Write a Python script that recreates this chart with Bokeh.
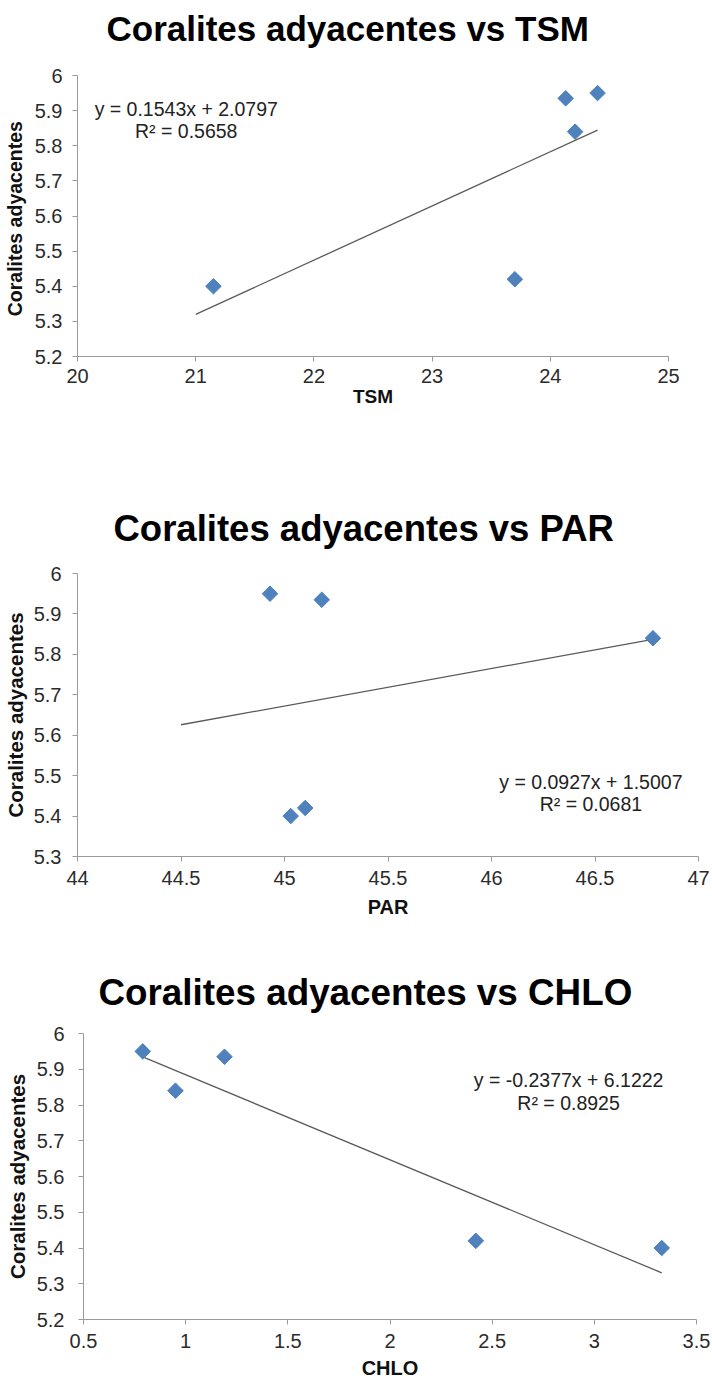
import math

from bokeh.plotting import figure
from bokeh.layouts import column, row
from bokeh.models import Label, FixedTicker, NumeralTickFormatter, Range1d
from bokeh.embed import file_html
from bokeh.resources import INLINE

# Coral measurements per site and the environmental variables at each site
coral = [5.40, 5.42, 5.935, 5.84, 5.95]
tsm = [21.15, 23.70, 24.13, 24.21, 24.40]
par = [45.03, 45.10, 45.18, 46.78, 44.93]
chlo = [3.33, 2.42, 1.19, 0.95, 0.79]

titles = ["Coralites adyacentes vs TSM",
          "Coralites adyacentes vs PAR",
          "Coralites adyacentes vs CHLO"]
x_names = ["TSM", "PAR", "CHLO"]
y_names = ["Coralites  adyacentes", "Coralites adyacentes", "Coralites adyacentes"]

# Linear trendlines (slope, intercept, R²) and the x span each one covers
slopes = [0.1543, 0.0927, -0.2377]
intercepts = [2.0797, 1.5007, 6.1222]
r_squared = [0.5658, 0.0681, 0.8925]
trend_x = [[21.0, 24.40], [44.5, 46.78], [0.79, 3.33]]

x_ticks = [[20, 21, 22, 23, 24, 25],
           [44, 44.5, 45, 45.5, 46, 46.5, 47],
           [0.5, 1, 1.5, 2, 2.5, 3, 3.5]]
y_ticks = [[5.2, 5.3, 5.4, 5.5, 5.6, 5.7, 5.8, 5.9, 6.0],
           [5.3, 5.4, 5.5, 5.6, 5.7, 5.8, 5.9, 6.0],
           [5.2, 5.3, 5.4, 5.5, 5.6, 5.7, 5.8, 5.9, 6.0]]

FONT = "Liberation Sans"
AXIS_GRAY = "#9a9a9a"
MARKER_BLUE = "#4f81bd"

# Geometry in pixels: heading strip (height, text left, text centre), chart
# figure height and borders.  Equation text positions are in data units.
layouts = [
    dict(head_h=55, head_x=106, head_y=28, head_size="35px",
         h=405, left=77, right=44, top=20, bottom=104,
         xlab_size="19px", ylab_size="19.5px",
         ytick_sd=10, ylab_sd=6, xtick_sd=7, xlab_sd=0, eq=(20.92, 5.906, 5.843)),
    dict(head_h=95, head_x=113, head_y=68, head_size="36.5px",
         h=365, left=73, right=14, top=18, bottom=64,
         xlab_size="20px", ylab_size="20.5px",
         ytick_sd=11, ylab_sd=4, xtick_sd=9, xlab_sd=8, eq=(46.48, 5.484, 5.430)),
    dict(head_h=100, head_x=98, head_y=72, head_size="36.8px",
         h=362, left=83, right=16, top=13, bottom=63,
         xlab_size="20px", ylab_size="20.5px",
         ytick_sd=14, ylab_sd=5, xtick_sd=9, xlab_sd=6, eq=(2.874, 5.869, 5.805)),
]


def fmt_eq(m, b):
    sign = "+" if b >= 0 else "-"
    return f"y = {m:.4f}x {sign} {abs(b):.4f}"


def make_heading(i):
    lay = layouts[i]
    h = figure(width=712, height=lay["head_h"], output_backend="svg",
               toolbar_location=None, x_axis_location=None, y_axis_location=None,
               x_range=Range1d(0, 1), y_range=Range1d(0, 1),
               min_border=0, min_border_left=0, min_border_right=0,
               min_border_top=0, min_border_bottom=0)
    h.outline_line_color = None
    h.xgrid.visible = False
    h.ygrid.visible = False
    h.add_layout(Label(x=lay["head_x"], y=lay["head_h"] - lay["head_y"],
                       x_units="screen", y_units="screen", text=titles[i],
                       text_align="left", text_baseline="middle", text_font=FONT,
                       text_font_size=lay["head_size"], text_font_style="bold",
                       text_color="black"))
    return h


def make_chart(i, xs):
    lay = layouts[i]
    p = figure(width=712, height=lay["h"], output_backend="svg", toolbar_location=None,
               x_range=Range1d(x_ticks[i][0], x_ticks[i][-1]),
               y_range=Range1d(y_ticks[i][0], y_ticks[i][-1]),
               min_border_left=lay["left"], min_border_right=lay["right"],
               min_border_top=lay["top"], min_border_bottom=lay["bottom"])
    p.outline_line_color = None
    p.background_fill_color = "white"
    p.border_fill_color = "white"
    p.xgrid.visible = False
    p.ygrid.visible = False

    for ax in (p.xaxis[0], p.yaxis[0]):
        ax.axis_line_color = AXIS_GRAY
        ax.major_tick_line_color = AXIS_GRAY
        ax.minor_tick_line_color = None
        ax.major_tick_in = 0
        ax.major_tick_out = 5
        ax.major_label_text_font = FONT
        ax.major_label_text_font_size = "20px"
        ax.major_label_text_color = "#2b2b2b"
        ax.axis_label_text_font = FONT
        ax.axis_label_text_font_style = "bold"
        ax.axis_label_text_color = "#111111"
        ax.formatter = NumeralTickFormatter(format="0.[0]")

    p.xaxis.axis_label_text_font_size = lay["xlab_size"]
    p.yaxis.axis_label_text_font_size = lay["ylab_size"]
    p.xaxis.ticker = FixedTicker(ticks=x_ticks[i])
    p.yaxis.ticker = FixedTicker(ticks=y_ticks[i])
    p.xaxis.axis_label = x_names[i]
    p.yaxis.axis_label = y_names[i]
    p.xaxis.major_label_standoff = lay["xtick_sd"]
    p.yaxis.major_label_standoff = lay["ytick_sd"]
    p.xaxis.axis_label_standoff = lay["xlab_sd"]
    p.yaxis.axis_label_standoff = lay["ylab_sd"]

    # trendline from the stated equation
    tx = trend_x[i]
    ty = [slopes[i] * v + intercepts[i] for v in tx]
    p.line(tx, ty, line_color="#5a5a5a", line_width=1.3)

    p.scatter(xs, coral, marker="square", angle=math.pi / 4, size=11,
              fill_color=MARKER_BLUE, line_color=MARKER_BLUE, line_width=1)

    ex, ey1, ey2 = lay["eq"]
    for txt, yy in ((fmt_eq(slopes[i], intercepts[i]), ey1),
                    (f"R² = {r_squared[i]:.4f}", ey2)):
        p.add_layout(Label(x=ex, y=yy, text=txt, text_align="center",
                           text_baseline="middle", text_font=FONT,
                           text_font_size="19.5px", text_color="#222222"))
    return p


# each figure sits in its own row so the column does not line up their frames
parts = []
for k, xs in enumerate((tsm, par, chlo)):
    parts.append(row(make_heading(k)))
    parts.append(row(make_chart(k, xs)))

page = column(*parts, spacing=0)

open("out.html", "w").write(file_html(page, INLINE))
